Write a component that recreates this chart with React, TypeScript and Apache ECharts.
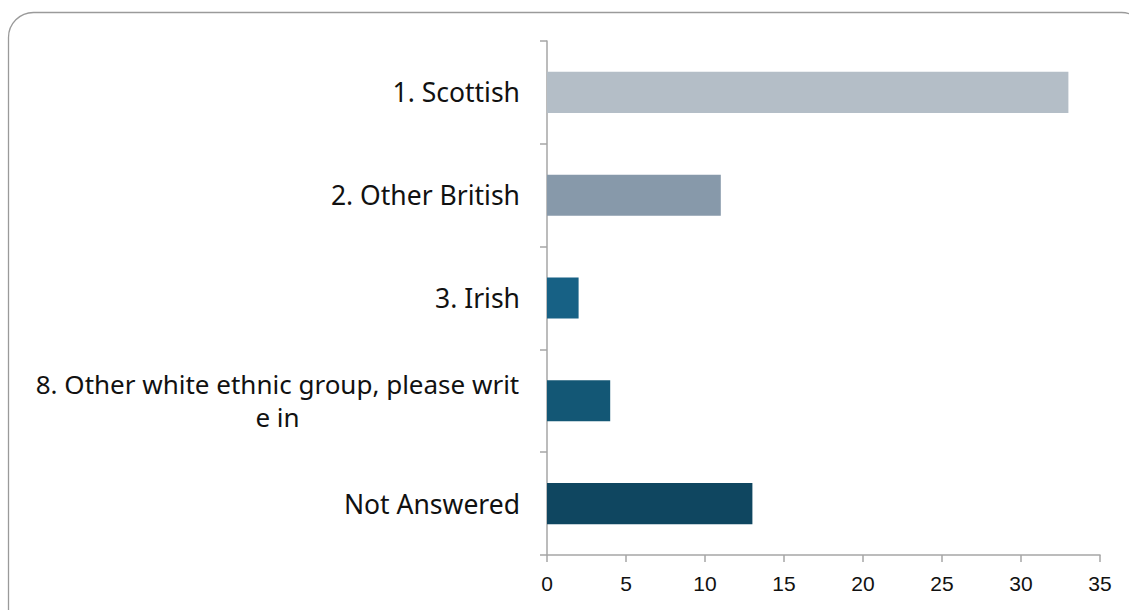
import React, { useEffect, useRef } from "react";
import * as echarts from "echarts";

const categories = [
  "1. Scottish",
  "2. Other British",
  "3. Irish",
  "8. Other white ethnic group, please write in",
  "Not Answered",
];
const values = [33, 11, 2, 4, 13];
const barColors = ["#b4bec7", "#8799aa", "#176185", "#135775", "#0f4660"];
const xTicks = { min: 0, max: 35, interval: 5 };

export default function App() {
  const ref = useRef<HTMLDivElement>(null);
  useEffect(() => {
    const chart = echarts.init(ref.current!, null, { renderer: "svg" });
    chart.setOption({
      animation: false,
      backgroundColor: "#ffffff",
      graphic: [
        {
          type: "rect",
          shape: { x: 8.5, y: 12.5, width: 1138, height: 640, r: 25 },
          style: { fill: "none", stroke: "#9a9a9a", lineWidth: 1.3 },
          silent: true,
          z: -1,
        },
      ],
      grid: { left: 547, right: 29, top: 41, bottom: 55, containLabel: false },
      xAxis: {
        type: "value",
        min: xTicks.min,
        max: xTicks.max,
        interval: xTicks.interval,
        axisLine: { show: true, lineStyle: { color: "#a6a6a6", width: 1.5 } },
        axisTick: { show: true, length: 7, lineStyle: { color: "#a6a6a6", width: 1.5 } },
        splitLine: { show: false },
        axisLabel: {
          fontSize: 21,
          color: "#111",
          fontFamily: "Liberation Sans, Arial, sans-serif",
          margin: 18,
        },
      },
      yAxis: {
        type: "category",
        data: categories,
        inverse: true,
        axisLine: { show: true, lineStyle: { color: "#a6a6a6", width: 1.5 } },
        axisTick: { show: true, length: 7, alignWithLabel: false, lineStyle: { color: "#a6a6a6", width: 1.5 } },
        axisLabel: {
          fontSize: 26.5,
          color: "#111",
          fontFamily: "Noto Sans, Inter, sans-serif",
          margin: 27,
          lineHeight: 33,
          align: "right",
          formatter: (v: string) =>
            v.length > 40
              ? "{c|" + v.slice(0, 40) + "}\n{c|" + v.slice(40) + "}"
              : v,
          rich: {
            c: {
              fontSize: 26,
              color: "#111",
              fontFamily: "Noto Sans, Inter, sans-serif",
              lineHeight: 33,
              width: 485,
              align: "center",
            },
          },
        },
      },
      series: [
        {
          type: "bar",
          data: values.map((v, i) => ({ value: v, itemStyle: { color: barColors[i] } })),
          barWidth: "40%",
        },
      ],
    });
    return () => chart.dispose();
  }, []);
  return (
    <div
      ref={ref}
      style={{ position: "fixed", left: 0, top: 0, width: 1129, height: 610 }}
    />
  );
}
